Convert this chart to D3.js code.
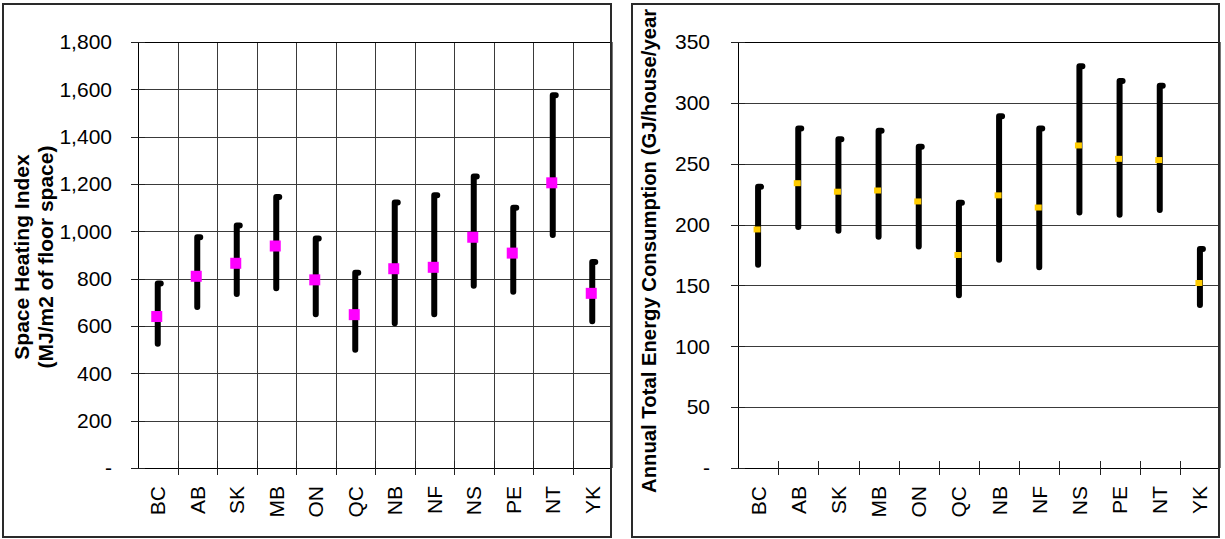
<!DOCTYPE html>
<html>
<head>
<meta charset="utf-8">
<script src="https://cdn.jsdelivr.net/npm/d3@7"></script>
<style>
  html, body { margin: 0; padding: 0; background: #fff; }
  svg { display: block; font-family: "Liberation Sans", Arial, sans-serif; }
</style>
</head>
<body>
<svg id="chart" width="1225" height="539"></svg>
<script>
// Provinces and territories along the x axis
const provinces = ["BC", "AB", "SK", "MB", "ON", "QC", "NB", "NF", "NS", "PE", "NT", "YK"];

// Space heating index (MJ/m2 of floor space): low, high, average
const heatLow  = [525, 680, 735, 760, 650, 500, 612, 650, 770, 745, 985, 620];
const heatHigh = [780, 975, 1025, 1145, 970, 825, 1122, 1152, 1232, 1100, 1575, 870];
const heatMid  = [640, 810, 865, 938, 795, 648, 842, 848, 975, 908, 1205, 738];
const heatTicks = [0, 200, 400, 600, 800, 1000, 1200, 1400, 1600, 1800];

// Annual total energy consumption (GJ/house/year): low, high, average
const energyLow  = [167, 198, 195, 190, 182, 142, 171, 165, 210, 208, 212, 134];
const energyHigh = [231, 279, 270, 277, 264, 218, 289, 279, 330, 318, 314, 180];
const energyMid  = [196, 234, 227, 228, 219, 175, 224, 214, 265, 254, 253, 152];
const energyTicks = [0, 50, 100, 150, 200, 250, 300, 350];

const svg = d3.select("#chart");
const fmt = d3.format(",");
const tickText = v => v === 0 ? "-" : fmt(v);
const FONT = 21;

function drawPanel(opt) {
  const g = svg.append("g");

  const x = d3.scaleBand().domain(provinces).range([opt.plot[0], opt.plot[2]]).padding(0);
  const y = d3.scaleLinear().domain([0, opt.ticks[opt.ticks.length - 1]]).range([opt.plot[3], opt.plot[1]]);

  // horizontal gridlines
  g.append("g").selectAll("line").data(opt.ticks.slice(1)).join("line")
    .attr("x1", opt.plot[0]).attr("x2", opt.plot[2])
    .attr("y1", d => Math.round(y(d)) + 0.5).attr("y2", d => Math.round(y(d)) + 0.5)
    .attr("stroke", "#3a3a3a").attr("stroke-width", 1);

  // vertical gridlines at category boundaries
  const bounds = provinces.slice(1).map(p => x(p));
  if (opt.vgrid) {
    g.append("g").selectAll("line").data(bounds).join("line")
      .attr("x1", d => Math.round(d) + 0.5).attr("x2", d => Math.round(d) + 0.5)
      .attr("y1", opt.plot[1]).attr("y2", opt.plot[3])
      .attr("stroke", "#3a3a3a").attr("stroke-width", 1);
  }

  // plot border: left axis, top line, right edge
  g.append("line").attr("x1", opt.plot[0] + 0.5).attr("x2", opt.plot[0] + 0.5)
    .attr("y1", opt.plot[1]).attr("y2", opt.plot[3]).attr("stroke", "#000");
  g.append("line").attr("x1", opt.plot[0]).attr("x2", opt.plot[2])
    .attr("y1", opt.plot[1] + 0.5).attr("y2", opt.plot[1] + 0.5).attr("stroke", "#000");
  g.append("line").attr("x1", opt.plot[2]).attr("x2", opt.plot[2])
    .attr("y1", opt.plot[1]).attr("y2", opt.plot[3]).attr("stroke", "#777").attr("stroke-width", 2);

  // x axis line and crossing ticks
  g.append("line").attr("x1", opt.plot[0]).attr("x2", opt.plot[2])
    .attr("y1", opt.plot[3] + 0.5).attr("y2", opt.plot[3] + 0.5).attr("stroke", "#000");
  g.append("g").selectAll("line").data(bounds).join("line")
    .attr("x1", d => Math.round(d) + 0.5).attr("x2", d => Math.round(d) + 0.5)
    .attr("y1", opt.plot[3] - 7).attr("y2", opt.plot[3] + 7)
    .attr("stroke", "#222");

  // y axis crossing ticks
  g.append("g").selectAll("line").data(opt.ticks).join("line")
    .attr("x1", opt.plot[0] - 7).attr("x2", opt.plot[0] + 7)
    .attr("y1", d => Math.round(y(d)) + 0.5).attr("y2", d => Math.round(y(d)) + 0.5)
    .attr("stroke", "#222");

  // y tick labels
  g.append("g").selectAll("text").data(opt.ticks).join("text")
    .attr("x", opt.plot[0] - opt.labelGap).attr("y", d => y(d))
    .attr("dy", "0.35em").attr("text-anchor", "end")
    .attr("font-size", FONT).attr("fill", "#000")
    .text(tickText);

  // x tick labels (rotated)
  g.append("g").selectAll("text").data(provinces).join("text")
    .attr("transform", d => `translate(${x(d) + x.bandwidth() / 2},${opt.plot[3] + 18}) rotate(-90)`)
    .attr("dy", "0.36em").attr("text-anchor", "end")
    .attr("font-size", FONT).attr("fill", "#000")
    .text(d => d);

  // high-low range bars
  const cx = d => x(d) + x.bandwidth() / 2;
  g.append("g").selectAll("path").data(provinces).join("path")
    .attr("d", (d, i) => `M${cx(d)},${y(opt.low[i])} V${y(opt.high[i])} h3`)
    .attr("fill", "none").attr("stroke", "#000").attr("stroke-width", 6)
    .attr("stroke-linecap", "round").attr("stroke-linejoin", "round");

  // average markers
  g.append("g").selectAll("rect").data(provinces).join("rect")
    .attr("x", d => cx(d) - opt.marker[0] / 2 - 1)
    .attr("y", (d, i) => y(opt.mid[i]) - opt.marker[1] / 2)
    .attr("width", opt.marker[0]).attr("height", opt.marker[1])
    .attr("fill", opt.markerColor);

  // axis title
  opt.title.forEach(line => {
    g.append("text")
      .attr("transform", `translate(${line.x},${line.y}) rotate(-90)`)
      .attr("text-anchor", line.anchor)
      .attr("font-size", line.size).attr("font-weight", "bold").attr("fill", "#000")
      .text(line.text);
  });

  // outer frame
  g.append("rect")
    .attr("x", opt.frame[0]).attr("y", opt.frame[1])
    .attr("width", opt.frame[2] - opt.frame[0]).attr("height", opt.frame[3] - opt.frame[1])
    .attr("fill", "none").attr("stroke", "#2a2a2a").attr("stroke-width", 2);
}

drawPanel({
  frame: [3, 4, 611, 537],
  plot: [138, 42, 612, 468],
  ticks: heatTicks,
  low: heatLow, high: heatHigh, mid: heatMid,
  vgrid: true,
  labelGap: 26,
  marker: [11, 11],
  markerColor: "#FF00FF",
  title: [
    { text: "Space Heating Index", x: 29, y: 257, anchor: "middle", size: 21 },
    { text: "(MJ/m2 of floor space)", x: 53, y: 257, anchor: "middle", size: 21 }
  ]
});

drawPanel({
  frame: [632, 4, 1219, 537],
  plot: [738, 42, 1220, 468],
  ticks: energyTicks,
  low: energyLow, high: energyHigh, mid: energyMid,
  vgrid: false,
  labelGap: 28,
  marker: [7, 6],
  markerColor: "#FFCC00",
  title: [
    { text: "Annual Total Energy Consumption (GJ/house/year", x: 656, y: 493, anchor: "start", size: 20.3 }
  ]
});
</script>
</body>
</html>
